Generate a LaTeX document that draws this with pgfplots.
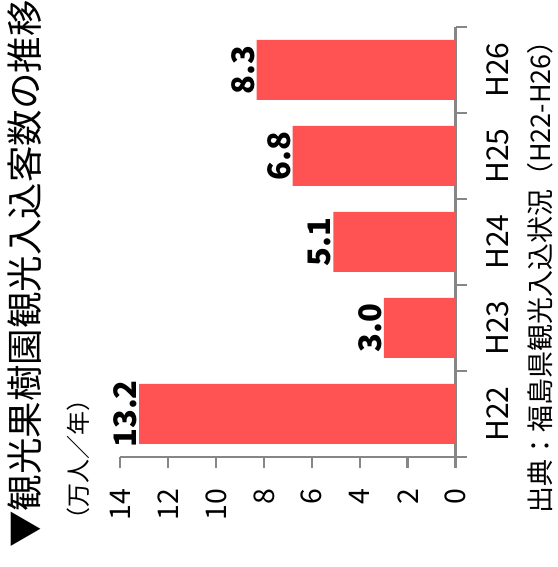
\documentclass[border=0pt]{standalone}
\usepackage{fontspec}
\setmainfont{Noto Sans CJK JP}
\usepackage{pgfplots}
\pgfplotsset{compat=1.18}
\definecolor{barred}{RGB}{255,82,82}
\definecolor{axgray}{RGB}{134,134,134}

\begin{document}
\begin{tikzpicture}[x=1pt,y=1pt]
\useasboundingbox (0,0) rectangle (557,567);
\begin{axis}[
  at={(287.85pt,325pt)}, anchor=center,
  scale only axis, width=335.7pt, height=430pt,
  xbar, bar width=60pt,
  x dir=reverse,
  xmin=0, xmax=14, ymin=-0.5, ymax=4.5,
  axis x line*=bottom, axis y line*=right,
  axis line style={draw=axgray, line width=2.8pt},
  tick align=outside,
  xtick={0,2,...,14},
  major tick length=11pt,
  minor tick length=11pt,
  x tick style={draw=axgray, line width=2.5pt},
  ytick={0,...,4},
  yticklabels={H22,H23,H24,H25,H26},
  major y tick style={draw=none},
  minor ytick={-0.5,0.5,...,4.5},
  minor y tick style={draw=axgray, line width=2.5pt},
  /pgf/number format/assume math mode=true,
  xticklabel shift=17pt,
  yticklabel shift=16pt,
  xticklabel style={rotate=90, anchor=east, font=\fontsize{28.5}{30}\selectfont},
  yticklabel style={rotate=90, anchor=north, font=\fontsize{30}{32}\selectfont},
  point meta=x,
  nodes near coords={\pgfmathprintnumber[fixed,fixed zerofill,precision=1]{\pgfplotspointmeta}},
  nodes near coords style={rotate=90, anchor=south, inner sep=2pt, font=\bfseries\fontsize{31}{33}\selectfont},
]
\addplot[fill=barred, draw=none] coordinates {(13.2,0) (3.0,1) (5.1,2) (6.8,3) (8.3,4)};
\end{axis}
\node[rotate=90, inner sep=0pt, font=\fontsize{36.5}{40}\selectfont] at (25,293) {▼観光果樹園観光入込客数の推移};
\node[rotate=90, anchor=west, inner sep=0pt, font=\fontsize{24}{26}\selectfont] at (78,35) {（万人／年）};
\node[rotate=90, anchor=west, inner sep=0pt, font=\fontsize{27}{29}\selectfont] at (540,53) {出典：福島県観光入込状況（H22-H26）};
\end{tikzpicture}
\end{document}
